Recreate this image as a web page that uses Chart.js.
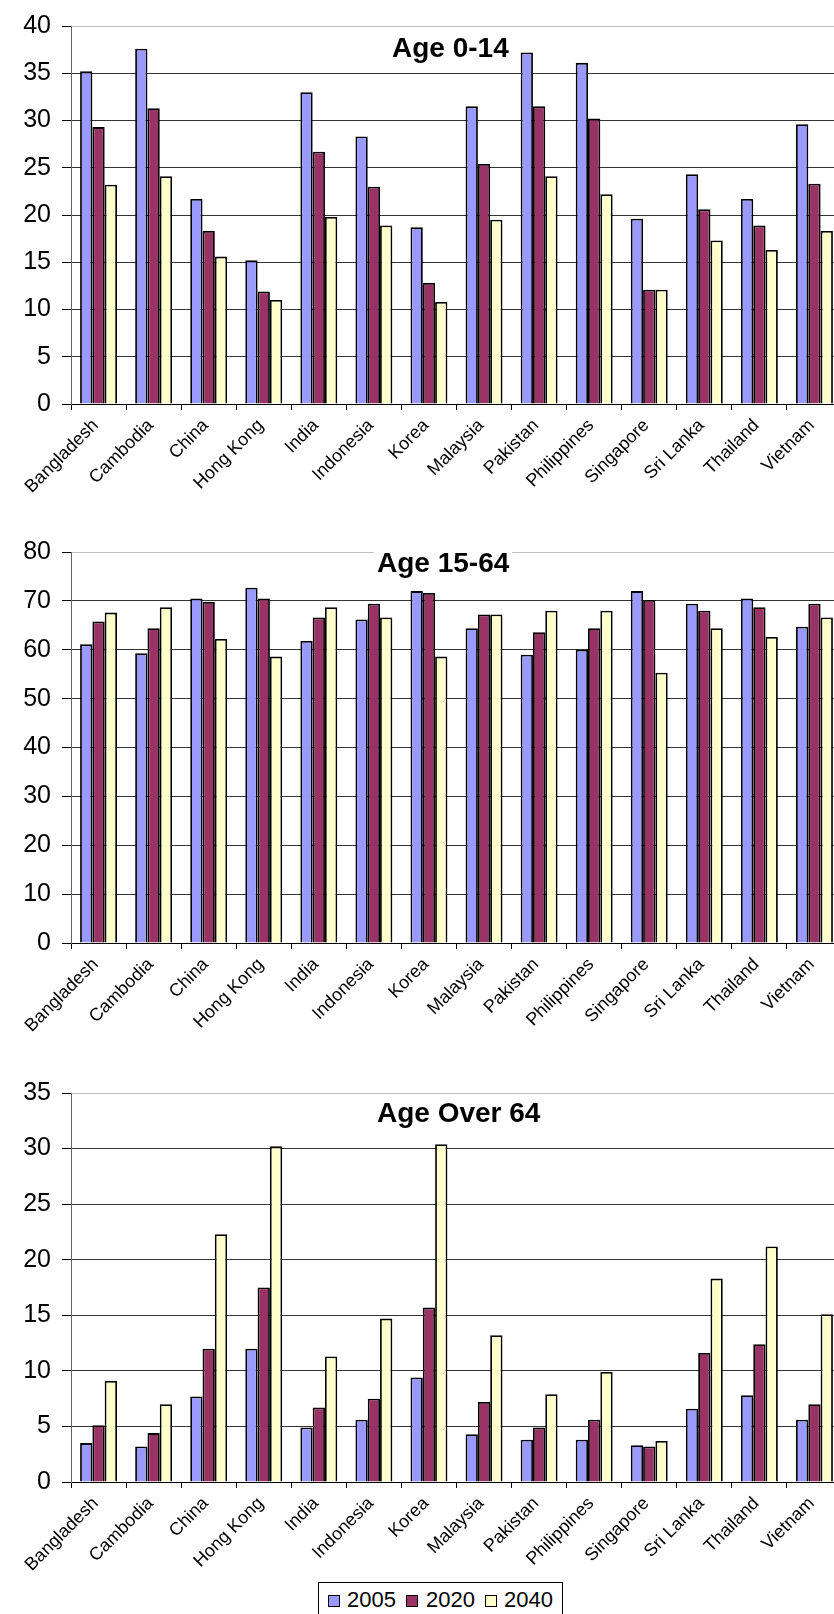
<!DOCTYPE html>
<html>
<head>
<meta charset="utf-8">
<script src="https://cdn.jsdelivr.net/npm/chart.js@4.4.1/dist/chart.umd.min.js"></script>
<style>
  html, body { margin: 0; padding: 0; background: #fff; overflow: hidden; }
  body { width: 834px; height: 1614px; position: relative; font-family: "Liberation Sans", Arial, sans-serif; }
  .box { position: absolute; left: 0; width: 860px; }
  #legend { position: absolute; left: 318px; top: 1582px; width: 245px; height: 44px; border: 1px solid #000; box-sizing: border-box; background: #fff; }
  .sw { position: absolute; top: 12px; width: 12px; height: 12px; border: 1px solid #000; box-sizing: border-box; }
  .lt { position: absolute; top: 6px; font-size: 22px; line-height: 22px; color: #000; }
</style>
</head>
<body>
<div class="box" style="top:0px;height:494px"><canvas id="young"></canvas></div>
<div class="box" style="top:520px;height:513px"><canvas id="working"></canvas></div>
<div class="box" style="top:1060px;height:512px"><canvas id="old"></canvas></div>
<div id="legend">
  <div class="sw" style="left:9px;background:#9999FF"></div><div class="lt" style="left:28px">2005</div>
  <div class="sw" style="left:87px;background:#993366"></div><div class="lt" style="left:107px">2020</div>
  <div class="sw" style="left:166px;background:#FFFFCC"></div><div class="lt" style="left:185px">2040</div>
</div>
<script>
const countries = ['Bangladesh', 'Cambodia', 'China', 'Hong Kong', 'India', 'Indonesia', 'Korea',
  'Malaysia', 'Pakistan', 'Philippines', 'Singapore', 'Sri Lanka', 'Thailand', 'Vietnam'];
const years = ['2005', '2020', '2040'];
const colors = ['#9999FF', '#993366', '#FFFFCC'];

// Age 0-14
const young2005 = [35.2, 37.6, 21.7, 15.2, 33.0, 28.3, 18.7, 31.5, 37.2, 36.1, 19.6, 24.3, 21.7, 29.6];
const young2020 = [29.3, 31.3, 18.3, 11.9, 26.7, 23.0, 12.8, 25.4, 31.5, 30.2, 12.1, 20.6, 18.9, 23.3];
const young2040 = [23.2, 24.1, 15.6, 11.0, 19.8, 18.9, 10.8, 19.5, 24.1, 22.2, 12.1, 17.3, 16.3, 18.3];

// Age 15-64
const working2005 = [61.1, 59.3, 70.5, 72.7, 61.8, 66.2, 72.0, 64.4, 59.0, 60.0, 72.0, 69.4, 70.5, 64.7];
const working2020 = [65.8, 64.4, 69.8, 70.5, 66.6, 69.4, 71.6, 67.2, 63.6, 64.4, 70.2, 68.0, 68.7, 69.4];
const working2040 = [67.6, 68.7, 62.2, 58.6, 68.7, 66.6, 58.6, 67.2, 68.0, 68.0, 55.3, 64.4, 62.6, 66.6];

// Age over 64
const old2005 = [3.5, 3.2, 7.7, 12.0, 4.9, 5.6, 9.4, 4.3, 3.8, 3.8, 3.3, 6.6, 7.8, 5.6];
const old2020 = [5.1, 4.4, 12.0, 17.5, 6.7, 7.5, 15.7, 7.2, 4.9, 5.6, 3.2, 11.6, 12.4, 7.0];
const old2040 = [9.1, 7.0, 22.3, 30.2, 11.3, 14.7, 30.4, 13.2, 7.9, 9.9, 3.7, 18.3, 21.2, 15.1];

const yTicks0 = [0, 40, 5];
const yTicks1 = [0, 80, 10];
const yTicks2 = [0, 35, 5];

const FONT = '"Liberation Sans", Arial, sans-serif';

function makeChart(id, series, ticks, title, titleX, titleBase, padTop) {
    let yMax = ticks[1];

    let titlePlugin = {
        id: 'ageTitle',
        afterDraw(chart) {
            let c = chart.ctx;
            c.save();
            c.font = 'bold 28px ' + FONT;
            let w = c.measureText(title).width;
            let y = chart.chartArea.top + titleBase;
            c.fillStyle = '#fff';
            c.fillRect(titleX - 3, y - 23, w + 6, 28);
            c.fillStyle = '#000';
            c.textBaseline = 'alphabetic';
            c.textAlign = 'left';
            c.fillText(title, titleX, y);
            c.restore();
        }
    };

    return new Chart(document.getElementById(id).getContext('2d'), {
        type: 'bar',
        data: {
            labels: countries,
            datasets: years.map((yr, i) => ({
                label: yr,
                data: series[i],
                backgroundColor: colors[i],
                borderColor: '#000',
                borderWidth: 1.8,
                categoryPercentage: 0.67,
                barPercentage: 1.0
            }))
        },
        options: {
            responsive: true,
            maintainAspectRatio: false,
            animation: false,
            layout: { padding: { top: padTop, right: 18, left: 0, bottom: 0 } },
            plugins: {
                legend: { display: false },
                tooltip: { enabled: false }
            },
            scales: {
                x: {
                    afterFit: function (scale) { scale.height = 90; },
                    grid: {
                        drawOnChartArea: false,
                        drawTicks: true,
                        tickLength: 6,
                        color: '#000',
                        offset: true
                    },
                    border: { color: '#000', width: 1 },
                    ticks: {
                        autoSkip: false,
                        maxRotation: 45,
                        minRotation: 45,
                        padding: 5,
                        labelOffset: -3,
                        color: '#000',
                        font: { family: FONT, size: 18 }
                    }
                },
                y: {
                    min: ticks[0],
                    max: yMax,
                    afterFit: function (scale) { scale.width = 71; },
                    grid: {
                        color: ctx => (ctx.tick && ctx.tick.value === yMax) ? '#c0c0c0' : '#333',
                        tickColor: '#000',
                        tickLength: 9,
                        lineWidth: 1
                    },
                    border: { color: '#666', width: 1 },
                    ticks: {
                        stepSize: ticks[2],
                        padding: 11,
                        color: '#000',
                        font: { family: FONT, size: 25 }
                    }
                }
            }
        },
        plugins: [titlePlugin]
    });
}

makeChart('young', [young2005, young2020, young2040], yTicks0, 'Age 0-14', 392, 31, 22);
makeChart('working', [working2005, working2020, working2040], yTicks1, 'Age 15-64', 377, 20, 32);
makeChart('old', [old2005, old2020, old2040], yTicks2, 'Age Over 64', 377, 29, 33);
</script>
</body>
</html>
